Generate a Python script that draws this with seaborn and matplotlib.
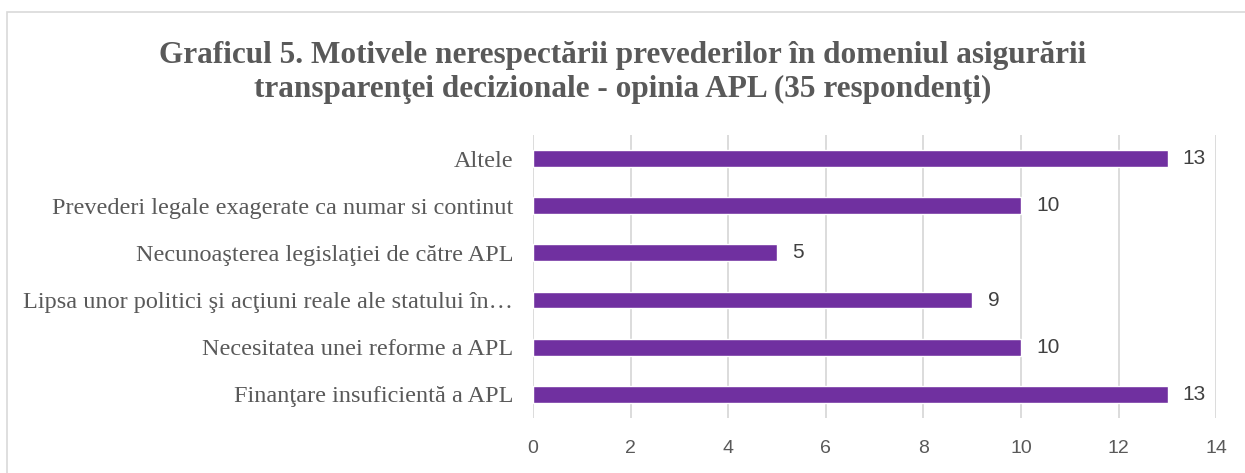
import numpy as np
import pandas as pd
import seaborn as sb
import matplotlib
matplotlib.use("Agg")
import matplotlib.pyplot as plt
from matplotlib.patches import Rectangle

# date (de sus in jos)
categories = [
    "Altele",
    "Prevederi legale exagerate ca numar si continut",
    "Necunoaşterea legislaţiei de către APL",
    "Lipsa unor politici şi acţiuni reale ale statului în…",
    "Necesitatea unei reforme a APL",
    "Finanţare insuficientă a APL",
]
values = [13, 10, 5, 9, 10, 13]
xticks = [0, 2, 4, 6, 8, 10, 12, 14]

title = ("Graficul 5. Motivele nerespectării prevederilor în domeniul asigurării\n"
         "transparenţei decizionale - opinia APL (35 respondenţi)")

bar_color = "#7030A0"
text_grey = "#595959"
grid_grey = "#D9D9D9"

df = pd.DataFrame({"motiv": categories, "n": values})

sb.set_style("white")
plt.rcParams['font.family'] = ['Liberation Serif', 'DejaVu Serif']

fig = plt.figure(figsize=(12.45, 4.73), dpi=100)
ax = fig.add_axes([0.428, 0.117, 0.549, 0.597])

sb.barplot(data=df, x="n", y="motiv", orient="h", color=bar_color,
           width=0.36, saturation=1, ax=ax, zorder=3)

ax.set_xlim(0, 14)
ax.set_xticks(xticks)
ax.set_xlabel("")
ax.set_ylabel("")
for s in ax.spines.values():
    s.set_visible(False)
ax.xaxis.grid(True, color=grid_grey, linewidth=1.3, zorder=0)
ax.set_axisbelow(True)
ax.tick_params(axis="both", length=0)
ax.tick_params(axis="y", pad=14)
ax.tick_params(axis="x", pad=16)

for lab in ax.get_yticklabels():
    lab.set_fontsize(17.5)
    lab.set_color(text_grey)
for lab in ax.get_xticklabels():
    lab.set_fontsize(14)
    lab.set_color(text_grey)
    lab.set_family(['Liberation Sans', 'DejaVu Sans'])

for cont in ax.containers:
    ax.bar_label(cont, labels=[str(v) for v in values], padding=11,
                 fontsize=15, color="#404040", family=['Liberation Sans', 'DejaVu Sans'])

fig.text(0.5, 0.846, title, ha="center", va="center", fontsize=22.5,
         fontweight="bold", color=text_grey, linespacing=1.22)

fig.patches.append(Rectangle((0.006, -0.01), 1.0, 0.985, transform=fig.transFigure,
                             fill=False, edgecolor="#D9D9D9", linewidth=1.2))

fig.savefig("out.png", dpi=100)
plt.close('all')
